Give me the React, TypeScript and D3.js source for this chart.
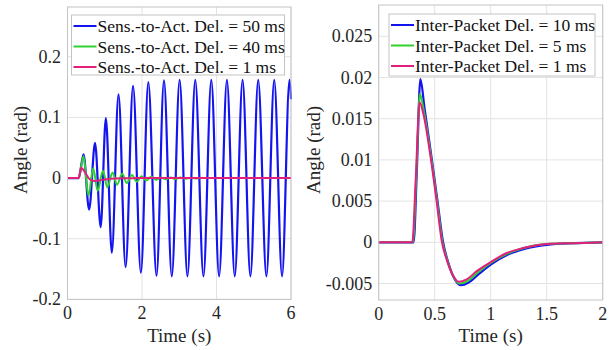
import * as d3 from 'd3';
import React from 'react';

// ---- data: [time (s), angle (rad)] ----
const sensDelay50: [number, number][] = [
    [0, 0], [0.3, 0], [0.43, 0.039], [0.58, -0.052], [0.74, 0.058], [0.89, -0.081], [1.03, 0.099],
    [1.19, -0.123], [1.37, 0.138], [1.56, -0.147], [1.76, 0.152], [1.97, -0.156], [2.17, 0.158],
    [2.39, -0.161], [2.59, 0.161], [2.8, -0.162], [3.01, 0.162], [3.22, -0.162], [3.43, 0.162],
    [3.65, -0.162], [3.86, 0.162], [4.07, -0.162], [4.28, 0.162], [4.49, -0.162], [4.7, 0.162],
    [4.91, -0.162], [5.12, 0.162], [5.34, -0.162], [5.55, 0.162], [5.76, -0.162], [5.96, 0.162],
    [6.0, 0.13],
];
const sensDelay40: [number, number][] = [
    [0, 0], [0.3, 0], [0.43, 0.036], [0.56, -0.029], [0.69, 0.016], [0.81, -0.021], [0.95, 0.012],
    [1.07, -0.015], [1.21, 0.009], [1.33, -0.011], [1.47, 0.007], [1.59, -0.008], [1.73, 0.005],
    [1.86, -0.006], [1.99, 0.003], [2.12, -0.004], [2.25, 0.002], [2.38, -0.003], [2.51, 0.001],
    [2.64, -0.002], [2.77, 0.001], [2.9, -0.0015], [3.03, 0.0008], [3.16, -0.001], [3.3, 0.0005],
    [3.43, -0.0007], [3.6, 0], [6, 0],
];
// baseline response (1 ms), shared by both panels
const delay1: [number, number][] = [
    [0, 0], [0.3, 0], [0.33, 0.0075], [0.365, 0.017], [0.4, 0.0155], [0.467, 0.01], [0.517, 0.005],
    [0.565, 0], [0.607, -0.0021], [0.666, -0.0041], [0.713, -0.0048], [0.786, -0.0045],
    [0.875, -0.0035], [1.0, -0.0024], [1.143, -0.0013], [1.29, -0.0007], [1.5, -0.0002],
    [1.74, -0.0001], [2.0, 0], [6, 0],
];
const packetDelay10: [number, number][] = [
    [0, 0], [0.312, 0], [0.34, 0.0085], [0.372, 0.0198], [0.41, 0.0162], [0.475, 0.01],
    [0.525, 0.005], [0.575, 0], [0.62, -0.0024], [0.68, -0.0045], [0.735, -0.0052],
    [0.8, -0.0049], [0.89, -0.0039], [1.0, -0.0027], [1.15, -0.0015], [1.3, -0.0008],
    [1.5, -0.0003], [1.75, -0.0001], [2.0, 0],
];
const packetDelay5: [number, number][] = [
    [0, 0], [0.306, 0], [0.335, 0.008], [0.368, 0.018], [0.405, 0.0158], [0.471, 0.01],
    [0.521, 0.005], [0.57, 0], [0.613, -0.0022], [0.673, -0.0043], [0.724, -0.005],
    [0.793, -0.0047], [0.882, -0.0037], [1.0, -0.0025], [1.146, -0.0014], [1.295, -0.0007],
    [1.5, -0.0002], [1.75, -0.0001], [2.0, 0],
];

const leftLabels = ['Sens.-to-Act. Del. = 50 ms', 'Sens.-to-Act. Del. = 40 ms', 'Sens.-to-Act. Del. = 1 ms'];
const rightLabels = ['Inter-Packet Del. = 10 ms', 'Inter-Packet Del. = 5 ms', 'Inter-Packet Del. = 1 ms'];
const leftXTicks = [0, 2, 4, 6];
const leftYTicks = [-0.2, -0.1, 0, 0.1, 0.2];
const rightXTicks = [0, 0.5, 1, 1.5, 2];
const rightYTicks = [-0.005, 0, 0.005, 0.01, 0.015, 0.02, 0.025];

const colors = ['#1414f0', '#2fd02f', '#e2207c'];
const font = '"Liberation Serif", "Times New Roman", serif';

interface PanelProps {
    series: [number, number][][];
    labels: string[];
    xDomain: [number, number];
    yDomain: [number, number];
    xRange: [number, number];
    yRange: [number, number];
    xTicks: number[];
    yTicks: number[];
    yLabelX: number;
    legend: { x: number; y: number; w: number; h: number };
}

const Panel: React.FC<PanelProps> = ({ series, labels, xDomain, yDomain, xRange, yRange, xTicks, yTicks, yLabelX, legend }) => {
    const x = d3.scaleLinear().domain(xDomain).range(xRange);
    const y = d3.scaleLinear().domain(yDomain).range(yRange);
    const line = d3.line<[number, number]>()
        .x(d => x(d[0]))
        .y(d => y(d[1]))
        .curve(d3.curveMonotoneX);
    const [x0, x1] = xRange;
    const [yb, yt] = yRange;
    const rowH = 20.5;

    return (
        <g>
            <rect x={x0} y={yt} width={x1 - x0} height={yb - yt} fill="#fff" />
            {/* grid */}
            {xTicks.map(t => (
                <line key={'gx' + t} x1={x(t)} x2={x(t)} y1={yt} y2={yb} stroke="#e3e3e3" strokeWidth={1} />
            ))}
            {yTicks.map(t => (
                <line key={'gy' + t} x1={x0} x2={x1} y1={y(t)} y2={y(t)} stroke="#e3e3e3" strokeWidth={1} />
            ))}
            {/* curves */}
            {series.map((s, i) => (
                <path key={i} d={line(s.filter(d => d[0] <= xDomain[1])) || ''} fill="none"
                    stroke={colors[i]} strokeWidth={i === 0 ? 2.2 : 2} strokeLinejoin="round" />
            ))}
            {/* box */}
            <rect x={x0} y={yt} width={x1 - x0} height={yb - yt} fill="none" stroke="#c4c4c4" strokeWidth={1} />
            {/* tick labels */}
            {xTicks.map(t => (
                <text key={'tx' + t} x={x(t)} y={yb + 19.5} textAnchor="middle" fontFamily={font} fontSize={18} fill="#262626">
                    {String(t)}
                </text>
            ))}
            {yTicks.map(t => (
                <text key={'ty' + t} x={x0 - 6.5} y={y(t) + 6} textAnchor="end" fontFamily={font} fontSize={18} fill="#262626">
                    {String(+t.toFixed(4))}
                </text>
            ))}
            <text x={(x0 + x1) / 2} y={341.5} textAnchor="middle" fontFamily={font} fontSize={19} fill="#262626">Time (s)</text>
            <text transform={`translate(${yLabelX},${150}) rotate(-90)`} textAnchor="middle" fontFamily={font} fontSize={19} fill="#262626">
                Angle (rad)
            </text>
            {/* legend */}
            <rect x={legend.x} y={legend.y} width={legend.w} height={legend.h} fill="#fff" stroke="#c4c4c4" strokeWidth={1} />
            {labels.map((lab, i) => {
                const cy = legend.y + 11 + i * rowH;
                return (
                    <g key={lab}>
                        <line x1={legend.x + 2} x2={legend.x + 25} y1={cy} y2={cy} stroke={colors[i]} strokeWidth={2} />
                        <text x={legend.x + 26} y={cy + 6} fontFamily={font} fontSize={17.5} fill="#111">{lab}</text>
                    </g>
                );
            })}
        </g>
    );
};

export default function App() {
    return (
        <svg width={613} height={350} style={{ position: 'absolute', left: 0, top: 0, background: '#fff' }}>
            <Panel
                series={[sensDelay50, sensDelay40, delay1]}
                labels={leftLabels}
                xDomain={[0, 6]}
                yDomain={[-0.2, 0.282]}
                xRange={[67.5, 291]}
                yRange={[299.4, 7]}
                xTicks={leftXTicks}
                yTicks={leftYTicks}
                yLabelX={27}
                legend={{ x: 71.5, y: 15, w: 213, h: 60 }}
            />
            <Panel
                series={[packetDelay10, packetDelay5, delay1]}
                labels={rightLabels}
                xDomain={[0, 2]}
                yDomain={[-0.007, 0.0288]}
                xRange={[378.7, 602.7]}
                yRange={[300, 5]}
                xTicks={rightXTicks}
                yTicks={rightYTicks}
                yLabelX={320}
                legend={{ x: 389, y: 14, w: 206, h: 62 }}
            />
        </svg>
    );
}
